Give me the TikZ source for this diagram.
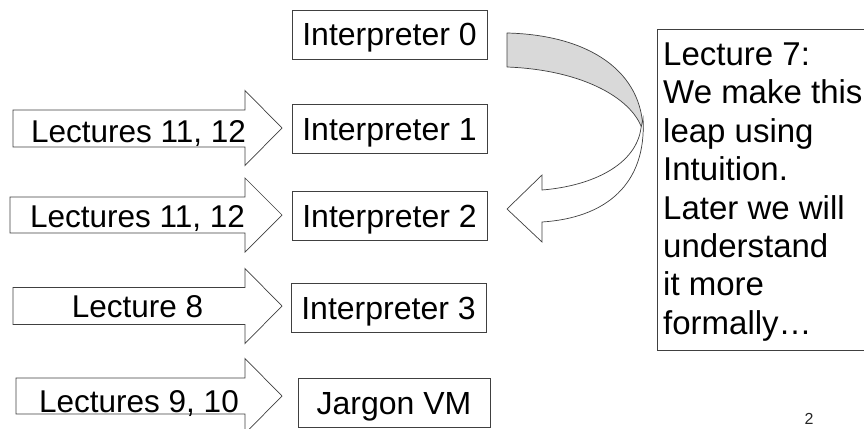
\documentclass[tikz,border=0pt]{standalone}
\usepackage{fontspec}
\setmainfont{Liberation Sans}
\definecolor{edge}{HTML}{404040}
\definecolor{backgray}{HTML}{D9D9D9}
\begin{document}
\begin{tikzpicture}[x=1pt,y=-1pt,
  interp/.style={draw=edge, line width=0.8pt, fill=white, inner sep=0pt,
    minimum width=195pt, minimum height=49pt, text height=23pt, text depth=0pt,
    font=\fontsize{32}{38}\selectfont},
  blockarrow/.style={draw=edge, line width=0.7pt, fill=white, line join=miter},
  arrowtext/.style={anchor=base, inner sep=0pt, font=\fontsize{31.5}{38}\selectfont},
  notebox/.style={draw=edge, line width=0.8pt, fill=white},
  notetext/.style={anchor=north west, inner sep=0pt, align=left,
    font=\fontsize{33}{38.4}\selectfont}]
\useasboundingbox (0,0) rectangle (864,428);

% interpreter boxes
\node[interp] (i0) at (389.5,34.5) {Interpreter 0};
\node[interp] (i1) at (389.5,129) {Interpreter 1};
\node[interp] (i2) at (389.5,216) {Interpreter 2};
\node[interp] (i3) at (388.5,307.5) {Interpreter 3};
\node[interp, minimum width=192pt] (i4) at (394,402.5) {Jargon VM};

% block arrows
\draw[blockarrow] (13,110) -- (245,110) -- (245,90.5) -- (282,128) -- (245,165.5) -- (245,147) -- (13,147) -- cycle;
\draw[blockarrow] (10,197) -- (245,197) -- (245,178) -- (282,215) -- (245,252) -- (245,233) -- (10,233) -- cycle;
\draw[blockarrow] (13,287.5) -- (245,287.5) -- (245,268.5) -- (282,306) -- (245,343.5) -- (245,324.5) -- (13,324.5) -- cycle;
\draw[blockarrow] (16,378) -- (245,378) -- (245,358.5) -- (282,396) -- (245,433.5) -- (245,414) -- (16,414) -- cycle;

\node[arrowtext] (l1) at (138.5,142) {Lectures 11, 12};
\node[arrowtext] (l2) at (137.5,227) {Lectures 11, 12};
\node[arrowtext] (l3) at (137.5,317) {Lecture 8};
\node[arrowtext] (l4) at (139,412) {Lectures 9, 10};

% curved arrow: back (gray) part
\draw[draw=edge, line width=0.7pt, fill=backgray, line join=round]
  (507,33) .. controls (590,35) and (643,72) .. (643,132)
  .. controls (635,100) and (585,70) .. (507,67) -- cycle;
% curved arrow: front (white) part with head
\draw[draw=edge, line width=0.7pt, fill=white, line join=miter]
  (643,118) .. controls (647,185) and (605,218) .. (542,222)
  -- (542,242) -- (507,209) -- (542,175) -- (542,190)
  .. controls (592,186) and (636,165) .. (641,128) -- cycle;

% note box
\node[notebox, minimum width=230pt, minimum height=321pt, anchor=north west] (note) at (657,29) {};
\node[notetext] (notetxt) at (663,42.5) {Lecture 7:\\We make this\\leap using\\Intuition.\\Later we will\\understand\\it more\\formally…};

% page number
\node[anchor=north, inner sep=0pt, text=black!85, font=\fontsize{16}{19}\selectfont] (pnum) at (809,413) {2};
\end{tikzpicture}
\end{document}
